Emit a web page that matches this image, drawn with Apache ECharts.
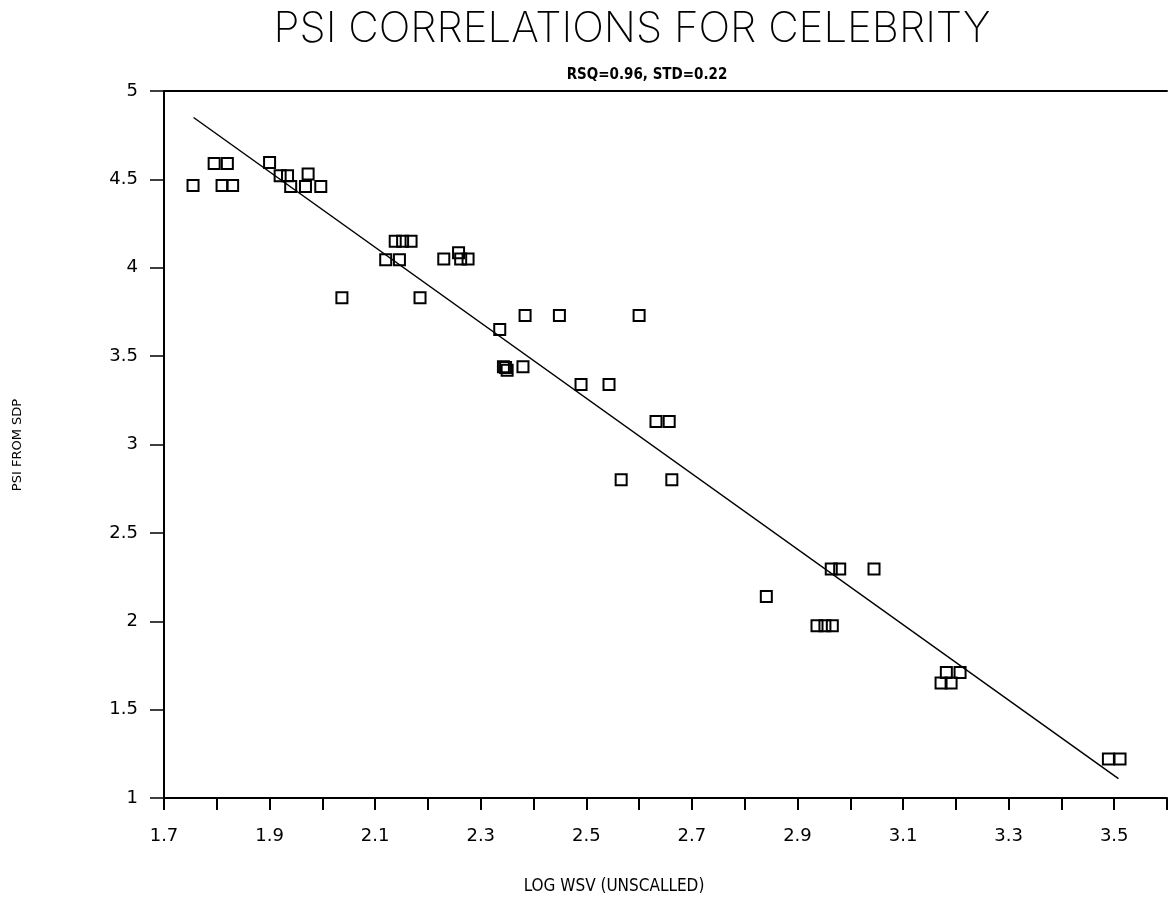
<!DOCTYPE html>
<html>
<head>
<meta charset="utf-8">
<script src="https://cdn.jsdelivr.net/npm/echarts@6/dist/echarts.min.js"></script>
<style>
html,body{margin:0;padding:0;background:#fff;}
#chart{width:1170px;height:903px;}
</style>
</head>
<body>
<div id="chart"></div>
<script>
// ---- data ----
var titleText = 'PSI CORRELATIONS FOR CELEBRITY';
var subtitleText = 'RSQ=0.96, STD=0.22';
var xAxisName = 'LOG WSV (UNSCALLED)';
var yAxisName = 'PSI FROM SDP';
var xTickLabels = ['1.7','1.9','2.1','2.3','2.5','2.7','2.9','3.1','3.3','3.5'];
var yTickLabels = ['1','1.5','2','2.5','3','3.5','4','4.5','5'];

var psiX = [1.755,1.795,1.82,1.81,1.83,1.90,1.92,1.934,1.94,1.968,1.973,1.997,
            2.037,2.12,2.146,2.138,2.152,2.168,2.185,2.23,2.258,2.262,2.276,
            2.336,2.343,2.35,2.347,2.38,2.384,2.449,2.49,2.543,2.566,2.60,
            2.632,2.657,2.662,2.841,2.937,2.952,2.966,2.964,2.98,3.045,
            3.172,3.191,3.182,3.208,3.489,3.511];
var psiY = [4.465,4.59,4.59,4.465,4.465,4.595,4.52,4.52,4.46,4.46,4.53,4.46,
            3.83,4.045,4.045,4.15,4.15,4.15,3.83,4.05,4.085,4.05,4.05,
            3.65,3.44,3.42,3.435,3.44,3.73,3.73,3.34,3.34,2.80,3.73,
            3.13,3.13,2.80,2.14,1.975,1.975,1.975,2.295,2.295,2.295,
            1.65,1.65,1.71,1.71,1.22,1.22];

var fitX = [1.756, 3.508];
var fitY = [4.85, 1.11];

// ---- build ----
var pts = psiX.map(function(x,i){return [x, psiY[i]];});
var fit = fitX.map(function(x,i){return [x, fitY[i]];});

var chart = echarts.init(document.getElementById('chart'), null, {renderer:'canvas'});
var axisFont = '"DejaVu Sans", sans-serif';
var narrowFont = '"Liberation Sans Narrow", "DejaVu Sans Condensed", sans-serif';

chart.setOption({
  backgroundColor:'#fff',
  animation:false,
  title:[
    {text:titleText, left:627, top:3, textAlign:'center',
     textStyle:{fontFamily:'Inter, "DejaVu Sans", sans-serif', fontWeight:200, fontSize:42, color:'#000'}},
    {text:subtitleText, left:642, top:63, textAlign:'center',
     textStyle:{fontFamily:narrowFont, fontWeight:'bold', fontSize:15, color:'#000'}}
  ],
  grid:{left:164, top:91, width:1008.5, height:707, containLabel:false},
  xAxis:[
    {type:'value', min:1.7, max:3.6, interval:0.1, position:'bottom',
     axisLine:{show:true, onZero:false, lineStyle:{color:'#000', width:2}},
     axisTick:{show:true, inside:false, length:12, lineStyle:{color:'#000', width:2}},
     splitLine:{show:false},
     axisLabel:{margin:29, color:'#000', fontFamily:axisFont, fontSize:18,
       formatter:function(v, idx){ return (idx % 2 === 0 && xTickLabels[idx/2]) ? xTickLabels[idx/2] : ''; }}
    },
    {type:'value', min:1.7, max:3.6, position:'top',
     axisLine:{show:true, onZero:false, lineStyle:{color:'#000', width:2}},
     axisTick:{show:false}, axisLabel:{show:false}, splitLine:{show:false}}
  ],
  yAxis:{type:'value', min:1, max:5, interval:0.5,
     axisLine:{show:true, onZero:false, lineStyle:{color:'#000', width:2}},
     axisTick:{show:true, inside:false, length:14, lineStyle:{color:'#000', width:1.5}},
     splitLine:{show:false},
     axisLabel:{margin:26, color:'#000', fontFamily:axisFont, fontSize:18,
       formatter:function(v, idx){ return yTickLabels[idx] !== undefined ? yTickLabels[idx] : ''; }}
  },
  graphic:[
    {type:'text', x:614, y:887, style:{text:xAxisName, fill:'#000', font:'17px ' + narrowFont, align:'center', verticalAlign:'middle'}},
    {type:'text', x:18, y:445, rotation:Math.PI/2, style:{text:yAxisName, fill:'#000', font:'13px ' + axisFont, align:'center', verticalAlign:'middle'}}
  ],
  series:[
    {type:'line', data:fit, xAxisIndex:0, showSymbol:false, symbol:'none',
     lineStyle:{color:'#000', width:1.5}, z:2, silent:true},
    {type:'scatter', data:pts, xAxisIndex:0, symbol:'rect', symbolSize:11,
     itemStyle:{color:'rgba(0,0,0,0)', borderColor:'#000', borderWidth:2, opacity:1}, z:3}
  ]
});
</script>
</body>
</html>
